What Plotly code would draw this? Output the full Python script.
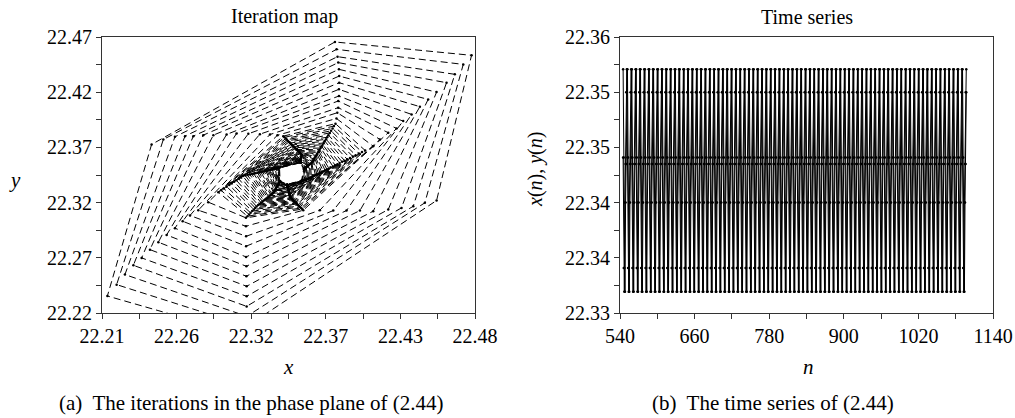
import plotly.graph_objects as go

# ---------------- data ----------------
# Phase plane: the iteration visits six "arms" in turn (LL -> L -> T -> UR -> LR -> B -> LL ...),
# spiralling in towards a small limit cycle around (22.346, 22.346).
start_x = [22.3152]
start_y = [22.1990]

ll_x = [22.2139, 22.2206, 22.2266, 22.2327, 22.2387, 22.2447, 22.2508, 22.2568, 22.2628, 22.2684, 22.2737, 22.2797,
        22.2869, 22.2942,
        22.2962, 22.2982, 22.3003, 22.3021, 22.3039, 22.3057, 22.3073, 22.3090, 22.3106, 22.3120, 22.3137, 22.3153,
        22.3170, 22.3184, 22.3198, 22.3212, 22.3226, 22.3238, 22.3250, 22.3262, 22.3274, 22.3286, 22.3295, 22.3305,
        22.3314, 22.3323, 22.3333, 22.3340, 22.3347, 22.3354, 22.3361, 22.3367, 22.3373, 22.3377, 22.3382, 22.3385]
ll_y = [22.2354, 22.2457, 22.2548, 22.2632, 22.2699, 22.2774, 22.2841, 22.2907, 22.2968, 22.3031, 22.3083, 22.3131,
        22.3204, 22.3294,
        22.3311, 22.3327, 22.3344, 22.3359, 22.3374, 22.3389, 22.3402, 22.3415, 22.3428, 22.3440, 22.3445, 22.3449,
        22.3454, 22.3458, 22.3462, 22.3466, 22.3470, 22.3473, 22.3477, 22.3480, 22.3484, 22.3487, 22.3490, 22.3492,
        22.3495, 22.3498, 22.3500, 22.3502, 22.3504, 22.3506, 22.3508, 22.3510, 22.3512, 22.3513, 22.3514, 22.3515]

l_x = [22.2459, 22.2544, 22.2628, 22.2701, 22.2761, 22.2833, 22.2906, 22.3002, 22.3074, 22.3159, 22.3243, 22.3316,
       22.3370, 22.3412,
       22.3421, 22.3430, 22.3438, 22.3446, 22.3454, 22.3462, 22.3469, 22.3476, 22.3483, 22.3490, 22.3496, 22.3502,
       22.3508, 22.3513, 22.3519, 22.3524, 22.3529, 22.3534, 22.3538, 22.3543, 22.3545, 22.3544, 22.3543, 22.3542,
       22.3541, 22.3540, 22.3539, 22.3539, 22.3538, 22.3538, 22.3537, 22.3537, 22.3536, 22.3536, 22.3535, 22.3535]
l_y = [22.3727, 22.3772, 22.3796, 22.3802, 22.3802, 22.3811, 22.3811, 22.3817, 22.3826, 22.3823, 22.3820, 22.3817,
       22.3810, 22.3802,
       22.3791, 22.3780, 22.3769, 22.3759, 22.3749, 22.3739, 22.3730, 22.3722, 22.3713, 22.3705, 22.3697, 22.3690,
       22.3682, 22.3675, 22.3669, 22.3662, 22.3656, 22.3650, 22.3645, 22.3639, 22.3633, 22.3625, 22.3619, 22.3613,
       22.3606, 22.3600, 22.3594, 22.3589, 22.3585, 22.3580, 22.3575, 22.3572, 22.3568, 22.3565, 22.3562, 22.3560]

t_x = [22.3786, 22.3798, 22.3805, 22.3810, 22.3815, 22.3817, 22.3817, 22.3815, 22.3815, 22.3810, 22.3810, 22.3803,
       22.3797, 22.3790,
       22.3779, 22.3769, 22.3758, 22.3749, 22.3739, 22.3730, 22.3722, 22.3713, 22.3705, 22.3697, 22.3690, 22.3683,
       22.3675, 22.3669, 22.3663, 22.3656, 22.3650, 22.3645, 22.3639, 22.3634, 22.3629, 22.3624, 22.3619, 22.3614,
       22.3608, 22.3601, 22.3595, 22.3590, 22.3585, 22.3581, 22.3576, 22.3572, 22.3568, 22.3565, 22.3562, 22.3560]
t_y = [22.4655, 22.4588, 22.4522, 22.4468, 22.4407, 22.4346, 22.4286, 22.4226, 22.4165, 22.4120, 22.4060, 22.4014,
       22.3962, 22.3915,
       22.3893, 22.3872, 22.3850, 22.3831, 22.3811, 22.3792, 22.3774, 22.3757, 22.3740, 22.3725, 22.3710, 22.3694,
       22.3679, 22.3666, 22.3653, 22.3640, 22.3627, 22.3617, 22.3606, 22.3595, 22.3584, 22.3573, 22.3565, 22.3557,
       22.3551, 22.3545, 22.3539, 22.3534, 22.3530, 22.3525, 22.3520, 22.3517, 22.3513, 22.3510, 22.3507, 22.3505]

ur_x = [22.4775, 22.4715, 22.4654, 22.4594, 22.4522, 22.4461, 22.4401, 22.4341, 22.4280, 22.4232, 22.4172, 22.4112,
        22.4063, 22.4005,
        22.3982, 22.3959, 22.3936, 22.3916, 22.3895, 22.3875, 22.3856, 22.3838, 22.3820, 22.3804, 22.3788, 22.3772,
        22.3756, 22.3742, 22.3728, 22.3715, 22.3701, 22.3689, 22.3678, 22.3666, 22.3655, 22.3644, 22.3634, 22.3625,
        22.3616, 22.3607, 22.3598, 22.3591, 22.3584, 22.3577, 22.3570, 22.3564, 22.3558, 22.3553, 22.3548, 22.3545]
ur_y = [22.4534, 22.4452, 22.4362, 22.4286, 22.4201, 22.4135, 22.4069, 22.3999, 22.3938, 22.3872, 22.3833, 22.3772,
        22.3711, 22.3672,
        22.3658, 22.3644, 22.3630, 22.3617, 22.3604, 22.3592, 22.3580, 22.3569, 22.3558, 22.3548, 22.3538, 22.3528,
        22.3518, 22.3510, 22.3501, 22.3493, 22.3484, 22.3477, 22.3470, 22.3463, 22.3456, 22.3449, 22.3444, 22.3438,
        22.3432, 22.3427, 22.3421, 22.3417, 22.3413, 22.3409, 22.3407, 22.3405, 22.3404, 22.3402, 22.3401, 22.3400]

lr_x = [22.4522, 22.4437, 22.4353, 22.4268, 22.4172, 22.4063, 22.3967, 22.3870, 22.3774, 22.3677, 22.3557,
        22.3549, 22.3541, 22.3533,
        22.3526, 22.3519, 22.3512, 22.3506, 22.3500, 22.3494, 22.3488, 22.3483, 22.3477, 22.3473, 22.3468, 22.3463,
        22.3461, 22.3459, 22.3458, 22.3457, 22.3455, 22.3454, 22.3453, 22.3452, 22.3451, 22.3450, 22.3449, 22.3448,
        22.3447, 22.3446, 22.3445, 22.3444, 22.3444, 22.3443, 22.3442, 22.3442, 22.3441, 22.3441, 22.3440, 22.3440]
lr_y = [22.3219, 22.3198, 22.3167, 22.3152, 22.3137, 22.3122, 22.3128, 22.3128, 22.3128, 22.3131, 22.3131,
        22.3141, 22.3151, 22.3161,
        22.3170, 22.3178, 22.3187, 22.3195, 22.3202, 22.3210, 22.3217, 22.3224, 22.3231, 22.3237, 22.3243, 22.3249,
        22.3257, 22.3264, 22.3271, 22.3278, 22.3285, 22.3291, 22.3297, 22.3303, 22.3309, 22.3315, 22.3320, 22.3325,
        22.3329, 22.3334, 22.3339, 22.3342, 22.3346, 22.3350, 22.3353, 22.3356, 22.3359, 22.3361, 22.3363, 22.3365]

b_x = [22.3150, 22.3148, 22.3147, 22.3147, 22.3147, 22.3145, 22.3145, 22.3143, 22.3143, 22.3143, 22.3142, 22.3142,
       22.3153, 22.3165,
       22.3176, 22.3187, 22.3199, 22.3209, 22.3219, 22.3230, 22.3241, 22.3251, 22.3262, 22.3271, 22.3280, 22.3289,
       22.3298, 22.3306, 22.3314, 22.3322, 22.3329, 22.3336, 22.3342, 22.3346, 22.3350, 22.3354, 22.3358, 22.3361,
       22.3364, 22.3368, 22.3371, 22.3374, 22.3376, 22.3379, 22.3381, 22.3384, 22.3386, 22.3387, 22.3389, 22.3390]
b_y = [22.2080, 22.2170, 22.2260, 22.2351, 22.2442, 22.2533, 22.2623, 22.2708, 22.2805, 22.2895, 22.2986, 22.3062,
       22.3077, 22.3092,
       22.3107, 22.3123, 22.3138, 22.3152, 22.3165, 22.3178, 22.3188, 22.3199, 22.3209, 22.3219, 22.3228, 22.3237,
       22.3246, 22.3254, 22.3262, 22.3270, 22.3278, 22.3285, 22.3292, 22.3301, 22.3310, 22.3319, 22.3326, 22.3334,
       22.3341, 22.3348, 22.3355, 22.3361, 22.3366, 22.3372, 22.3377, 22.3381, 22.3386, 22.3389, 22.3392, 22.3395]

# Time series: one period of the limit cycle, repeated over n
n_first, n_last = 545, 1097
x_cycle = [22.3565, 22.3469, 22.3349, 22.3323, 22.3420, 22.3462, 22.3540]
y_cycle = [22.3469, 22.3349, 22.3323, 22.3420, 22.3462, 22.3540, 22.3565]

# tick labels
px_ticks = [22.21, 22.264, 22.318, 22.372, 22.426, 22.48]
px_text = ["22.21", "22.26", "22.32", "22.37", "22.43", "22.48"]
py_ticks = [22.22, 22.27, 22.32, 22.37, 22.42, 22.47]
py_text = ["22.22", "22.27", "22.32", "22.37", "22.42", "22.47"]
tx_ticks = [540, 660, 780, 900, 1020, 1140]
ty_ticks = [22.33, 22.336, 22.342, 22.348, 22.354, 22.36]
ty_text = ["22.33", "22.34", "22.34", "22.35", "22.35", "22.36"]

# ---------------- build sequences ----------------
arms_x = [ll_x, l_x, t_x, ur_x, lr_x, b_x]
arms_y = [ll_y, l_y, t_y, ur_y, lr_y, b_y]
seq_x, seq_y = list(start_x), list(start_y)
for k in range(len(ll_x)):
    for ax_, ay_ in zip(arms_x, arms_y):
        seq_x.append(ax_[k])
        seq_y.append(ay_[k])

n_vals = list(range(n_first, n_last + 1))
xs = [x_cycle[i % len(x_cycle)] for i in range(len(n_vals))]
ys = [y_cycle[i % len(y_cycle)] for i in range(len(n_vals))]

FONT = "Liberation Serif"
W, H = 1015, 418
ML, MR, MT, MB = 102, 22, 37, 105
PW, PH = W - ML - MR, H - MT - MB

fig = go.Figure()
fig.add_trace(go.Scatter(x=seq_x, y=seq_y, mode="lines+markers", xaxis="x", yaxis="y",
                         line=dict(color="black", width=1, dash="7px,4px"),
                         marker=dict(color="black", size=2.5), showlegend=False))
fig.add_trace(go.Scatter(x=n_vals, y=xs, mode="lines+markers", xaxis="x2", yaxis="y2",
                         line=dict(color="black", width=1),
                         marker=dict(color="black", size=2.5), showlegend=False))
fig.add_trace(go.Scatter(x=n_vals, y=ys, mode="lines+markers", xaxis="x2", yaxis="y2",
                         line=dict(color="black", width=1),
                         marker=dict(color="black", size=2.5), showlegend=False))


def mids(v):
    return [(a + b) / 2 for a, b in zip(v[:-1], v[1:])]


axis_common = dict(showline=True, linecolor="#333", linewidth=1, mirror=True, showgrid=False, zeroline=False,
                   automargin=False, ticks="outside", ticklen=5, tickcolor="#333",
                   tickfont=dict(family=FONT, size=20, color="black"))

fig.update_layout(
    width=W, height=H, margin=dict(l=ML, r=MR, t=MT, b=MB),
    paper_bgcolor="white", plot_bgcolor="white",
    xaxis=dict(domain=[0, (475 - ML) / PW], range=[22.21, 22.48], tickmode="array", tickvals=px_ticks,
               ticktext=px_text, anchor="y",
               minor=dict(tickvals=mids(px_ticks), ticks="outside", ticklen=5, tickcolor="#333"), **axis_common),
    yaxis=dict(domain=[0, 1], range=[22.22, 22.47], tickmode="array", tickvals=py_ticks,
               ticktext=py_text, anchor="x",
               minor=dict(tickvals=mids(py_ticks), ticks="outside", ticklen=5, tickcolor="#333"), **axis_common),
    xaxis2=dict(domain=[(620 - ML) / PW, 1], range=[540, 1140], tickmode="array", tickvals=tx_ticks,
                ticktext=[str(v) for v in tx_ticks], anchor="y2",
                minor=dict(tickvals=mids(tx_ticks), ticks="outside", ticklen=5, tickcolor="#333"), **axis_common),
    yaxis2=dict(domain=[0, 1], range=[22.33, 22.36], tickmode="array", tickvals=ty_ticks,
                ticktext=ty_text, anchor="x2",
                minor=dict(tickvals=mids(ty_ticks), ticks="outside", ticklen=5, tickcolor="#333"), **axis_common),
)


def ann(text, px, py, size=20, angle=0):
    fig.add_annotation(text=text, x=(px - ML) / PW, y=(H - MB - py) / PH, xref="paper", yref="paper",
                       showarrow=False, xanchor="center", yanchor="middle", textangle=angle,
                       font=dict(family=FONT, size=size, color="black"))


ann("Iteration map", 284, 17)
ann("Time series", 807, 17)
ann("<i>x</i>", 288, 367, size=21)
ann("<i>n</i>", 808, 367, size=21)
ann("<i>y</i>", 15, 180, size=21)
ann("<i>x</i>(<i>n</i>), <i>y</i>(<i>n</i>)", 535, 170, size=20, angle=-90)
ann("(a)\u00a0 The iterations in the phase plane of (2.44)", 251, 403, size=21)
ann("(b)\u00a0 The time series of (2.44)", 773, 403, size=21)

fig.write_html("out.html")
